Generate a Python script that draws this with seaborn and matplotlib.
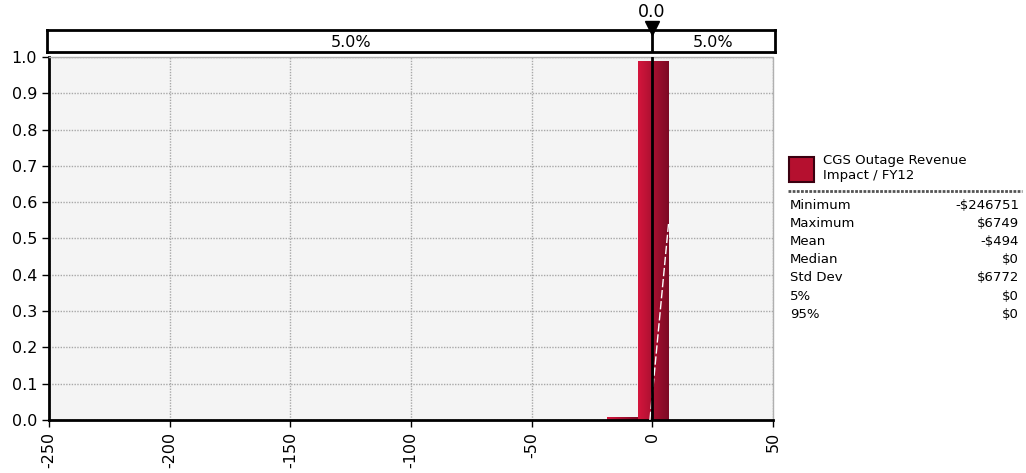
import numpy as np
import pandas as pd
import seaborn as sns
import matplotlib.pyplot as plt
from matplotlib.patches import Rectangle
from matplotlib.colors import LinearSegmentedColormap

# histogram of outage revenue impact (thousands $), 20 bins min..max
x_min = -246.751
x_max = 6.749
n_bins = 20
bin_heights = [0.001, 0.0008, 0.0008, 0.0008, 0.0008, 0.0008, 0.0008, 0.0008, 0.0008, 0.0008,
               0.0008, 0.0008, 0.0008, 0.0008, 0.0008, 0.0008, 0.0008, 0.001, 0.007, 0.988]
cdf_x = [-1.0, 6.7]
cdf_y = [0.0, 0.54]

stat_names = ['Minimum', 'Maximum', 'Mean', 'Median', 'Std Dev', '5%', '95%']
stat_values = ['-$246751', '$6749', '-$494', '$0', '$6772', '$0', '$0']
series_name = 'CGS Outage Revenue\nImpact / FY12'
left_pct = '5.0%'
right_pct = '5.0%'
marker_val = 0.0

edges = np.linspace(x_min, x_max, n_bins + 1)
centers = (edges[:-1] + edges[1:]) / 2
hist_df = pd.DataFrame({'impact': centers, 'w': bin_heights})

sns.set_style('white')
plt.rcParams['font.family'] = ['DejaVu Sans']
plt.rcParams['text.color'] = 'black'
plt.rcParams['xtick.color'] = 'black'
plt.rcParams['ytick.color'] = 'black'

W, H = 1026, 473
fig = plt.figure(figsize=(W / 100, H / 100), dpi=100)
ax = fig.add_axes([49 / W, 1 - 420 / H, 724 / W, 363 / H])
ax.set_facecolor('#f4f4f4')

sns.histplot(data=hist_df, x='impact', weights='w', bins=list(edges), ax=ax, color='#b5102f',
             linewidth=0, alpha=1, zorder=2)

# gradient fill on bars
cmap = LinearSegmentedColormap.from_list('bar', ['#d4153c', '#7c0a24'])
grad = np.linspace(0, 1, 64).reshape(1, -1)
for p in list(ax.patches):
    x0, y0 = p.get_x(), p.get_y()
    w, h = p.get_width(), p.get_height()
    im = ax.imshow(grad, cmap=cmap, aspect='auto', extent=[x0, x0 + w, y0, y0 + h],
                   zorder=2.5, interpolation='bilinear')
    im.set_clip_path(p)

sns.lineplot(x=cdf_x, y=cdf_y, ax=ax, color='white', lw=1, linestyle=(0, (6, 2)), zorder=3)

ax.axvline(marker_val, color='black', lw=2, zorder=4)

ax.set_xlim(-250, 50)
ax.set_ylim(0, 1.0)
ax.set_xticks(np.arange(-250, 51, 50))
ax.set_xticklabels([str(v) for v in range(-250, 51, 50)], rotation=90)
ax.set_yticks(np.arange(0, 1.01, 0.1))
ax.set_yticklabels([f'{v:.1f}' for v in np.arange(0, 1.01, 0.1)])
ax.tick_params(axis='both', labelsize=11.5, length=5, width=1, color='black', direction='out',
               labelcolor='black')
ax.tick_params(bottom=True, left=True)
ax.grid(True, color='#a8a8a8', linestyle=(0, (1, 1)), lw=1, zorder=0)
ax.set_axisbelow(True)
ax.set_xlabel('')
ax.set_ylabel('')
for s in ['left', 'bottom']:
    ax.spines[s].set_color('black')
    ax.spines[s].set_linewidth(2)
for s in ['top', 'right']:
    ax.spines[s].set_color('#b0b0b0')
    ax.spines[s].set_linestyle((0, (1, 1)))
    ax.spines[s].set_linewidth(1)

# header bar with percentiles
ppx = 724 / 300
ax_top = fig.add_axes([47 / W, 1 - 52 / H, 728 / W, 22 / H])
ax_top.set_xlim(-250 - 2 / ppx, 50 + 2 / ppx)
ax_top.set_ylim(0, 1)
ax_top.set_xticks([])
ax_top.set_yticks([])
for s in ax_top.spines.values():
    s.set_color('black')
    s.set_linewidth(2)
ax_top.text((-250 + marker_val) / 2, 0.45, left_pct, ha='center', va='center', fontsize=11.5)
ax_top.text((marker_val + 50) / 2, 0.45, right_pct, ha='center', va='center', fontsize=11.5)
ax_top.axvline(marker_val, color='black', lw=2)
ax_top.plot([marker_val], [1.1], marker='v', color='black', markersize=10, clip_on=False)
fig.text(652 / W, 1 - 12 / H, f'{marker_val:.1f}', ha='center', va='center', fontsize=12.5)

# legend / stats panel
fig.patches.append(Rectangle((789 / W, 1 - 182 / H), 25 / W, 25 / H, transform=fig.transFigure,
                             facecolor='#b5102f', edgecolor='#3a0010', lw=1.5))
fig.text(823 / W, 1 - 168 / H, series_name, fontsize=9.5, va='center', linespacing=1.15)
fig.lines.append(plt.Line2D([788 / W, 1022 / W], [1 - 191 / H, 1 - 191 / H],
                            transform=fig.transFigure, color='#555555', lw=2,
                            linestyle=(0, (1, 0.5))))
for i, (n, v) in enumerate(zip(stat_names, stat_values)):
    y = 1 - (205 + i * 18.2) / H
    fig.text(790 / W, y, n, fontsize=9.5, va='center')
    fig.text(1019 / W, y, v, fontsize=9.5, va='center', ha='right')

fig.savefig('out.png', dpi=100)
